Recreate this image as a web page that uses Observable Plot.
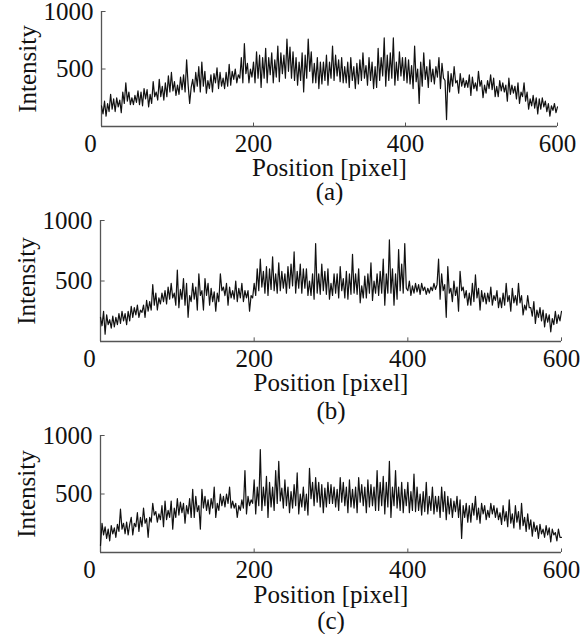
<!DOCTYPE html>
<html>
<head>
<meta charset="utf-8">
<script src="https://cdn.jsdelivr.net/npm/d3@7"></script>
<script src="https://cdn.jsdelivr.net/npm/@observablehq/plot@0.6"></script>
<style>
  html, body { margin: 0; padding: 0; background: #fff; }
  #chart { width: 585px; height: 634px; overflow: hidden; }
  #chart svg { display: block; }
  #chart svg, #chart svg text { font-family: "Liberation Serif", "Times New Roman", serif !important; }
</style>
</head>
<body>
<div id="chart"></div>
<script>
// Sample spacing along the position axis (pixels)
const step = 2;
const xTicks = [200, 400, 600];
const yTicks = [500, 1000];
const xLabel = "Position [pixel]";
const yLabel = "Intensity";
const panelLetters = ["(a)", "(b)", "(c)"];

// Panel (a) intensity profile (position 0..600, every 2 px)
const seriesA = [
  180, 110, 220, 90, 200, 130, 280, 150, 240, 130, 250, 170, 230, 120, 300, 200, 380, 220, 300, 190,
  250, 190, 270, 210, 310, 190, 300, 180, 330, 240, 320, 170, 280, 200, 390, 260, 300, 230, 410, 260,
  350, 230, 380, 260, 440, 300, 470, 310, 390, 270, 360, 280, 430, 320, 450, 300, 580, 360, 200, 340,
  410, 300, 470, 350, 520, 300, 560, 350, 480, 290, 400, 330, 450, 300, 460, 380, 510, 330, 470, 350,
  420, 330, 470, 350, 540, 360, 480, 410, 500, 380, 450, 420, 600, 380, 720, 460, 550, 380, 500, 430,
  560, 380, 650, 420, 620, 340, 600, 420, 680, 380, 600, 450, 640, 380, 580, 430, 700, 390, 640, 460,
  620, 420, 760, 480, 690, 420, 650, 400, 600, 360, 560, 400, 640, 300, 620, 420, 760, 480, 650, 380,
  550, 380, 600, 330, 560, 370, 560, 400, 620, 360, 560, 420, 700, 400, 620, 440, 580, 390, 600, 380,
  520, 380, 560, 340, 600, 400, 520, 330, 550, 370, 580, 400, 640, 420, 530, 360, 600, 400, 560, 330,
  520, 340, 680, 400, 600, 440, 770, 350, 620, 400, 640, 420, 770, 360, 560, 400, 650, 440, 600, 400,
  600, 380, 580, 370, 530, 330, 700, 390, 500, 200, 560, 350, 640, 410, 520, 340, 580, 390, 500, 370,
  520, 430, 600, 330, 550, 420, 400, 60, 480, 300, 460, 350, 520, 380, 400, 290, 460, 350, 420, 340,
  400, 340, 450, 270, 430, 330, 380, 310, 480, 350, 400, 250, 360, 290, 400, 330, 450, 320, 420, 260,
  350, 260, 400, 310, 380, 300, 360, 220, 420, 280, 360, 290, 350, 240, 380, 200, 300, 260, 380, 220,
  300, 150, 240, 180, 270, 160, 250, 110, 240, 150, 250, 170, 220, 130, 200, 90, 180, 140, 200, 120,
  170
];

// Panel (b) intensity profile
const seriesB = [
  200, 130, 250, 60, 220, 140, 180, 110, 210, 120, 200, 140, 230, 150, 250, 170, 230, 140, 250, 170,
  290, 200, 280, 220, 300, 200, 260, 240, 300, 200, 340, 250, 330, 260, 470, 300, 400, 260, 360, 310,
  400, 330, 420, 310, 450, 350, 480, 360, 400, 300, 590, 280, 430, 350, 520, 300, 480, 200, 380, 330,
  480, 350, 450, 260, 560, 380, 420, 260, 520, 380, 480, 300, 440, 330, 410, 250, 400, 330, 560, 420,
  450, 380, 480, 300, 450, 360, 420, 350, 500, 330, 440, 360, 480, 330, 420, 360, 420, 250, 380, 360,
  480, 380, 600, 420, 680, 450, 580, 400, 620, 380, 600, 430, 700, 420, 560, 400, 650, 420, 580, 440,
  560, 400, 620, 440, 640, 460, 740, 400, 580, 440, 640, 400, 600, 440, 600, 380, 500, 380, 560, 350,
  810, 400, 560, 390, 640, 420, 580, 390, 600, 350, 480, 380, 560, 400, 560, 360, 620, 420, 520, 360,
  580, 350, 560, 390, 720, 400, 560, 390, 600, 320, 460, 360, 540, 360, 560, 400, 650, 340, 500, 400,
  560, 380, 580, 400, 680, 300, 560, 400, 840, 400, 600, 300, 560, 350, 760, 420, 640, 400, 810, 440,
  420, 500, 380, 460, 400, 480, 410, 470, 390, 480, 420, 450, 390, 440, 400, 450, 420, 480, 430, 470,
  680, 350, 560, 420, 470, 200, 620, 400, 440, 330, 500, 380, 450, 250, 580, 420, 450, 360, 420, 300,
  400, 300, 480, 330, 550, 360, 440, 260, 420, 330, 400, 310, 400, 330, 450, 300, 380, 340, 420, 280,
  360, 280, 400, 300, 480, 330, 380, 250, 440, 320, 380, 300, 480, 320, 380, 220, 300, 260, 380, 280,
  280, 210, 330, 150, 260, 200, 280, 170, 260, 120, 230, 160, 220, 80, 190, 140, 250, 150, 220, 170,
  250
];

// Panel (c) intensity profile
const seriesC = [
  60, 250, 150, 220, 120, 200, 100, 230, 160, 210, 130, 240, 180, 370, 200, 250, 160, 260, 150, 240,
  300, 150, 250, 220, 340, 180, 300, 220, 380, 250, 290, 130, 300, 260, 420, 320, 350, 260, 330, 280,
  400, 220, 440, 280, 360, 300, 440, 200, 380, 300, 460, 320, 430, 340, 420, 250, 400, 330, 460, 300,
  540, 300, 480, 350, 400, 200, 540, 380, 480, 360, 450, 330, 460, 380, 560, 300, 420, 360, 500, 400,
  480, 390, 500, 420, 560, 380, 440, 380, 420, 300, 400, 360, 450, 380, 700, 330, 480, 400, 450, 420,
  620, 330, 560, 400, 880, 360, 560, 400, 650, 300, 600, 390, 560, 360, 700, 420, 780, 440, 550, 380,
  620, 400, 560, 340, 520, 380, 580, 400, 680, 330, 500, 390, 560, 360, 500, 320, 720, 460, 600, 400,
  640, 430, 600, 390, 580, 340, 550, 390, 600, 420, 580, 420, 560, 390, 540, 360, 640, 430, 600, 400,
  560, 340, 620, 390, 540, 380, 560, 340, 640, 430, 580, 400, 560, 340, 620, 390, 580, 400, 560, 360,
  700, 360, 600, 400, 650, 330, 600, 390, 780, 300, 560, 400, 700, 380, 560, 360, 600, 340, 540, 400,
  600, 340, 520, 360, 670, 350, 560, 360, 500, 320, 520, 350, 600, 330, 480, 360, 560, 330, 480, 350,
  480, 300, 560, 350, 520, 280, 480, 330, 460, 300, 440, 350, 480, 300, 450, 120, 400, 300, 420, 260,
  400, 260, 420, 320, 480, 280, 380, 250, 420, 330, 400, 280, 360, 300, 420, 330, 400, 300, 380, 280,
  340, 240, 400, 270, 350, 220, 450, 250, 330, 210, 400, 260, 350, 200, 420, 230, 300, 180, 330, 200,
  280, 140, 260, 180, 230, 120, 240, 160, 200, 130, 230, 150, 210, 90, 200, 150, 170, 100, 200, 130,
  130
];

const FONT = "Liberation Serif";
const FS = 25;
const axisColor = "#555";
const ink = "#111";

function panel(values, letter, layout) {
  return Plot.plot({
    width: 585,
    height: layout.height,
    marginTop: layout.mt,
    marginBottom: layout.mb,
    marginLeft: layout.ml,
    marginRight: layout.mr,
    x: {domain: [0, 600], axis: null},
    y: {domain: [0, 1000], axis: null},
    style: {fontFamily: FONT, fontSize: FS + "px", background: "#fff", color: ink, overflow: "visible"},
    marks: [
      Plot.ruleY([0], {stroke: axisColor, strokeWidth: 1.3}),
      Plot.ruleX([0], {stroke: axisColor, strokeWidth: 1.3}),
      Plot.ruleX(xTicks, {y1: 0, y2: 30, stroke: axisColor, strokeWidth: 1}),
      Plot.ruleY(yTicks, {x1: 0, x2: 6, stroke: axisColor, strokeWidth: 1}),
      Plot.line(values, {x: (d, i) => i * step, y: (d) => d, stroke: "#111", strokeWidth: 1.2}),
      Plot.axisX(xTicks, {tickSize: 0, tickPadding: 8, tickFormat: (d) => String(d), fontSize: FS, fontFamily: FONT, label: null, fill: ink}),
      Plot.text(["0"], {x: 0, frameAnchor: "bottom", lineAnchor: "top", dy: 8, dx: -11, fontSize: FS, fontFamily: FONT, fill: ink}),
      Plot.axisY(yTicks, {tickSize: 0, tickPadding: 8, tickFormat: (d) => String(d), fontSize: FS, fontFamily: FONT, label: null, fill: ink}),
      Plot.text([yLabel], {frameAnchor: "left", textAnchor: "middle", lineAnchor: "middle", dx: -74, rotate: -90, fontSize: FS, fontFamily: FONT, fill: ink}),
      Plot.text([xLabel], {frameAnchor: "bottom", textAnchor: "middle", lineAnchor: "bottom", dy: layout.xlab, fontSize: FS, fontFamily: FONT, fill: ink}),
      Plot.text([letter], {frameAnchor: "bottom", textAnchor: "middle", lineAnchor: "bottom", dy: layout.tag, fontSize: FS, fontFamily: FONT, fill: ink})
    ]
  });
}

const chart = document.getElementById("chart");
chart.append(panel(seriesA, panelLetters[0], {height: 205, mt: 11, mb: 79, ml: 101, mr: 28, xlab: 49, tag: 73}));
chart.append(panel(seriesB, panelLetters[1], {height: 213, mt: 15, mb: 77, ml: 100, mr: 24, xlab: 49, tag: 77}));
chart.append(panel(seriesC, panelLetters[2], {height: 216, mt: 17, mb: 82, ml: 100, mr: 24, xlab: 50, tag: 76}));
</script>
</body>
</html>
